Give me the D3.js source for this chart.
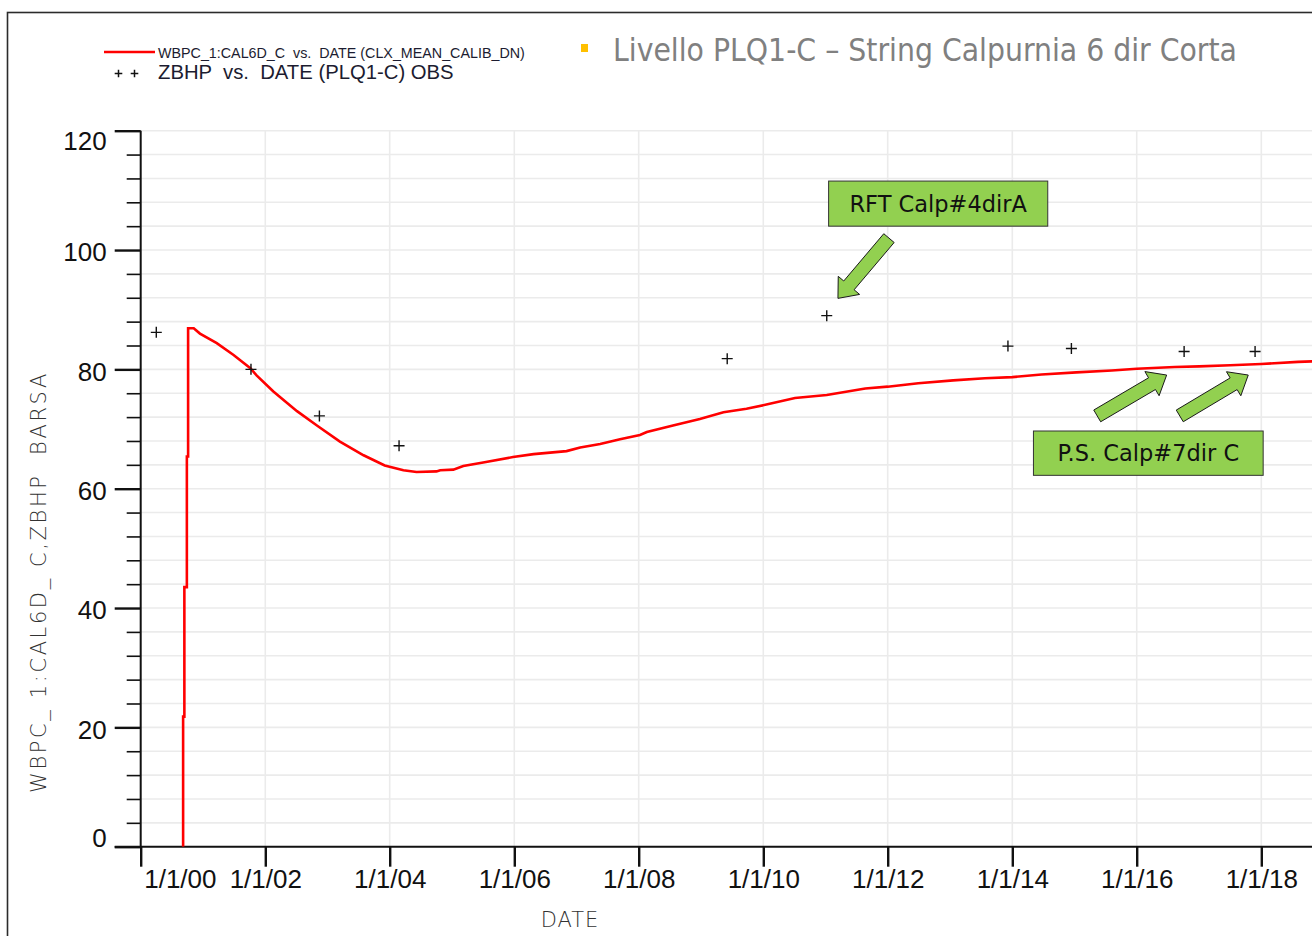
<!DOCTYPE html>
<html>
<head>
<meta charset="utf-8">
<script src="https://cdn.jsdelivr.net/npm/d3@7"></script>
<style>
  html, body { margin: 0; padding: 0; background: #fff; }
  svg { display: block; }
</style>
</head>
<body>
<svg id="chart" width="1312" height="936"></svg>
<script>
// Simulated bottom-hole pressure (decimal year, BARSA)
const simYears = [
  2000.68, 2000.68, 2000.70, 2000.70, 2000.74, 2000.74, 2000.76, 2000.76, 2000.85,
  2000.95, 2001.22, 2001.49, 2001.76, 2001.86, 2002.13, 2002.51, 2002.83, 2003.20,
  2003.58, 2003.92, 2004.22, 2004.43, 2004.75, 2004.81, 2005.02, 2005.18, 2005.50,
  2005.98, 2006.31, 2006.84, 2007.06, 2007.38, 2007.70, 2008.02, 2008.13, 2008.55,
  2008.98, 2009.36, 2009.73, 2010.05, 2010.51, 2011.02, 2011.64, 2012.00, 2012.49,
  2013.05, 2013.56, 2014.00, 2014.47, 2015.03, 2015.60, 2016.00, 2016.61, 2017.00,
  2017.50, 2018.00, 2018.59, 2018.85
];
const simValues = [
  0, 21.8, 21.8, 43.5, 43.5, 65.4, 65.4, 86.9, 86.9,
  86.0, 84.4, 82.4, 80.2, 79.0, 76.3, 73.0, 70.6, 67.9,
  65.6, 63.9, 63.1, 62.8, 62.9, 63.1, 63.2, 63.8, 64.4,
  65.3, 65.8, 66.3, 66.9, 67.5, 68.3, 69.0, 69.5, 70.6,
  71.7, 72.8, 73.4, 74.1, 75.2, 75.7, 76.8, 77.1, 77.66,
  78.15, 78.5, 78.7, 79.15, 79.5, 79.8, 80.1, 80.4, 80.5,
  80.7, 80.9, 81.25, 81.35
];

// Observed pressures (decimal year, BARSA)
const obsYears  = [2000.25, 2001.77, 2002.87, 2004.15, 2009.42, 2011.02, 2013.93, 2014.95, 2016.76, 2017.90];
const obsValues = [86.2, 80.0, 72.2, 67.2, 81.8, 89.0, 83.9, 83.5, 83.0, 83.0];

// Axis ticks
const xTickYears  = [2000, 2002, 2004, 2006, 2008, 2010, 2012, 2014, 2016, 2018];
const xTickLabels = ["1/1/00", "1/1/02", "1/1/04", "1/1/06", "1/1/08", "1/1/10", "1/1/12", "1/1/14", "1/1/16", "1/1/18"];
const yMajorTicks = [0, 20, 40, 60, 80, 100, 120];
const yMinorStep = 4;

// Text
const titleText   = "Livello PLQ1-C \u2013 String Calpurnia 6 dir Corta";
const legendSim   = "WBPC_1:CAL6D_C  vs.  DATE (CLX_MEAN_CALIB_DN)";
const legendObs   = "ZBHP  vs.  DATE (PLQ1-C) OBS";
const yAxisTitle  = "WBPC_ 1:CAL6D_ C,ZBHP  BARSA";
const xAxisTitle  = "DATE";

// Call-out boxes, anchored in data space
const calloutLabels = ["RFT Calp#4dirA", "P.S. Calp#7dir C"];
const calloutBoxYears  = [[2011.05, 2014.57], [2014.34, 2018.03]];
const calloutBoxValues = [[111.56, 104.0], [69.67, 62.24]];
// Arrows: [year, value] of tail and tip
const arrowTails = [[2012.02, 102.0], [2015.365, 72.2], [2016.69, 72.2]];
const arrowTips  = [[2011.20, 91.9], [2016.48, 79.05], [2017.79, 79.05]];

// ---------------------------------------------------------------
const toDate = y => {
  const yr = Math.floor(y);
  const a = Date.UTC(yr, 0, 1), b = Date.UTC(yr + 1, 0, 1);
  return new Date(a + (y - yr) * (b - a));
};

const svg = d3.select("#chart");
const W = 1312, H = 936;

const x = d3.scaleUtc()
  .domain([toDate(2000), toDate(2018)])
  .range([140.7, 1261.3]);
const y = d3.scaleLinear()
  .domain([0, 120])
  .range([846.7, 130.7]);

const plotRight = W;

// outer frame
svg.append("rect")
  .attr("x", 7.5).attr("y", 12.5)
  .attr("width", W).attr("height", H)
  .attr("fill", "none").attr("stroke", "#2b2b2b").attr("stroke-width", 1.6);

// grid
const gridColor = "#ebebeb";
const minorVals = d3.range(0, 120 + 0.001, yMinorStep);
svg.append("g").selectAll("line.h").data(minorVals.filter(v => v > 0)).join("line")
  .attr("x1", x(toDate(2000))).attr("x2", plotRight)
  .attr("y1", d => y(d)).attr("y2", d => y(d))
  .attr("stroke", gridColor).attr("stroke-width", 1.6);
svg.append("g").selectAll("line.v").data(xTickYears.slice(1)).join("line")
  .attr("x1", d => x(toDate(d))).attr("x2", d => x(toDate(d)))
  .attr("y1", y(120)).attr("y2", y(0))
  .attr("stroke", gridColor).attr("stroke-width", 1.6);

// y axis: minor ticks
const yMinorAxis = d3.axisLeft(y)
  .tickValues(minorVals.filter(v => !yMajorTicks.includes(v)))
  .tickSize(14).tickFormat("");
const gMinor = svg.append("g").attr("transform", `translate(${x(toDate(2000))},0)`).call(yMinorAxis);
gMinor.select(".domain").remove();
gMinor.selectAll("line").attr("stroke", "#111").attr("stroke-width", 1.6);

// y axis: major ticks + labels
const yAxis = d3.axisLeft(y).tickValues(yMajorTicks).tickSize(26).tickPadding(8)
  .tickFormat(d3.format("d"));
const gY = svg.append("g").attr("transform", `translate(${x(toDate(2000))},0)`).call(yAxis);
gY.select(".domain").attr("stroke", "#111").attr("stroke-width", 2).attr("d", `M0,${y(120)}V${y(0)}`);
gY.selectAll("line").attr("stroke", "#111").attr("stroke-width", 2.4);
gY.selectAll("text")
  .attr("fill", "#111")
  .style("font-family", "'Liberation Sans', Arial, sans-serif")
  .style("font-size", "26px")
  .attr("dy", d => d === 120 ? "0.716em" : (d === 0 ? "0em" : "0.41em"));

// x axis
const xAxis = d3.axisBottom(x)
  .tickValues(xTickYears.map(toDate))
  .tickSize(20).tickPadding(3)
  .tickFormat((d, i) => xTickLabels[i]);
const gX = svg.append("g").attr("transform", `translate(0,${y(0)})`).call(xAxis);
gX.select(".domain").attr("stroke", "#111").attr("stroke-width", 2)
  .attr("d", `M${x(toDate(2000)) - 26},0H${plotRight}`);
gX.selectAll("line").attr("stroke", "#111").attr("stroke-width", 2.4);
gX.selectAll("text")
  .attr("fill", "#111")
  .style("font-family", "'Liberation Sans', Arial, sans-serif")
  .style("font-size", "26px");
gX.selectAll(".tick").filter((d, i) => i === 0).select("text")
  .attr("text-anchor", "start").attr("x", 3);

// simulated curve
const simData = simYears.map((yr, i) => ({ date: toDate(yr), v: simValues[i] }));
svg.append("defs").append("clipPath").attr("id", "plotClip")
  .append("rect").attr("x", x(toDate(2000))).attr("y", y(120) - 10)
  .attr("width", plotRight - x(toDate(2000))).attr("height", y(0) - y(120) + 10);
svg.append("path")
  .datum(simData)
  .attr("clip-path", "url(#plotClip)")
  .attr("fill", "none").attr("stroke", "#ff0000").attr("stroke-width", 2.6)
  .attr("stroke-linejoin", "miter")
  .attr("d", d3.line().x(d => x(d.date)).y(d => y(d.v)));

// observed points as crosses
const cross = (cx, cy, r) => `M${cx - r},${cy}H${cx + r}M${cx},${cy - r}V${cy + r}`;
svg.append("g").selectAll("path").data(obsYears.map((yr, i) => ({ date: toDate(yr), v: obsValues[i] })))
  .join("path")
  .attr("d", d => cross(x(d.date), y(d.v), 5.5))
  .attr("stroke", "#111").attr("stroke-width", 1.4).attr("fill", "none");

// call-outs
const green = "#92d050";
const blockArrow = (x0, y0, x1, y1, s, h, hl) => {
  const dx = x1 - x0, dy = y1 - y0, L = Math.hypot(dx, dy);
  const ux = dx / L, uy = dy / L, px = -uy, py = ux;
  const bx = x1 - ux * hl, by = y1 - uy * hl;
  const p = [
    [x0 + px * s, y0 + py * s], [bx + px * s, by + py * s], [bx + px * h, by + py * h],
    [x1, y1],
    [bx - px * h, by - py * h], [bx - px * s, by - py * s], [x0 - px * s, y0 - py * s]
  ];
  return "M" + p.map(q => q.join(",")).join("L") + "Z";
};
svg.append("g").selectAll("path").data(arrowTails.map((t, i) => ({ t, h: arrowTips[i] })))
  .join("path")
  .attr("d", d => blockArrow(x(toDate(d.t[0])), y(d.t[1]), x(toDate(d.h[0])), y(d.h[1]), 6.8, 14, 17))
  .attr("fill", green).attr("stroke", "#1a1a1a").attr("stroke-width", 1).attr("stroke-linejoin", "miter");

const boxes = svg.append("g").selectAll("g").data(calloutLabels.map((lab, i) => ({
  lab, x0: x(toDate(calloutBoxYears[i][0])), x1: x(toDate(calloutBoxYears[i][1])),
  y0: y(calloutBoxValues[i][0]), y1: y(calloutBoxValues[i][1])
}))).join("g");
boxes.append("rect")
  .attr("x", d => d.x0).attr("y", d => d.y0)
  .attr("width", d => d.x1 - d.x0).attr("height", d => d.y1 - d.y0)
  .attr("fill", green).attr("stroke", "#333").attr("stroke-width", 1);
boxes.append("text")
  .attr("x", d => (d.x0 + d.x1) / 2).attr("y", d => (d.y0 + d.y1) / 2)
  .attr("dy", "0.36em").attr("text-anchor", "middle")
  .attr("fill", "#111")
  .style("font-family", "'DejaVu Sans', Verdana, sans-serif").style("font-size", "22.5px")
  .text(d => d.lab);

// legend
svg.append("line").attr("x1", 104).attr("x2", 155).attr("y1", 52).attr("y2", 52)
  .attr("stroke", "#ff0000").attr("stroke-width", 2.4);
svg.append("text").attr("x", 158).attr("y", 58).attr("xml:space", "preserve")
  .attr("fill", "#1c1c30")
  .style("font-family", "'Liberation Sans', Arial, sans-serif").style("font-size", "14.3px")
  .style("white-space", "pre")
  .text(legendSim);
svg.append("g").selectAll("path").data([118.5, 134.5]).join("path")
  .attr("d", d => cross(d, 73.5, 3.8))
  .attr("stroke", "#111").attr("stroke-width", 1.5);
svg.append("text").attr("x", 158).attr("y", 79).attr("xml:space", "preserve")
  .attr("fill", "#1c1c30")
  .style("font-family", "'Liberation Sans', Arial, sans-serif").style("font-size", "20.3px")
  .style("white-space", "pre")
  .text(legendObs);

// title with bullet
svg.append("rect").attr("x", 581).attr("y", 44).attr("width", 7).attr("height", 8).attr("fill", "#ffc000");
svg.append("text").attr("x", 613).attr("y", 61)
  .attr("fill", "#808080")
  .style("font-family", "'DejaVu Sans Condensed', 'DejaVu Sans', sans-serif")
  .style("font-stretch", "condensed")
  .style("font-size", "31.5px")
  .text(titleText);

// axis titles
svg.append("text")
  .attr("transform", "translate(46,582) rotate(-90)")
  .attr("text-anchor", "middle").attr("xml:space", "preserve")
  .attr("fill", "#333")
  .style("font-family", "'DejaVu Sans', sans-serif").style("font-weight", "200")
  .style("font-size", "21px").style("letter-spacing", "2.6px").style("white-space", "pre")
  .text(yAxisTitle);
svg.append("text")
  .attr("x", 570).attr("y", 927).attr("text-anchor", "middle")
  .attr("fill", "#333")
  .style("font-family", "'DejaVu Sans', sans-serif").style("font-weight", "200")
  .style("font-size", "21px").style("letter-spacing", "1px")
  .text(xAxisTitle);
</script>
</body>
</html>
